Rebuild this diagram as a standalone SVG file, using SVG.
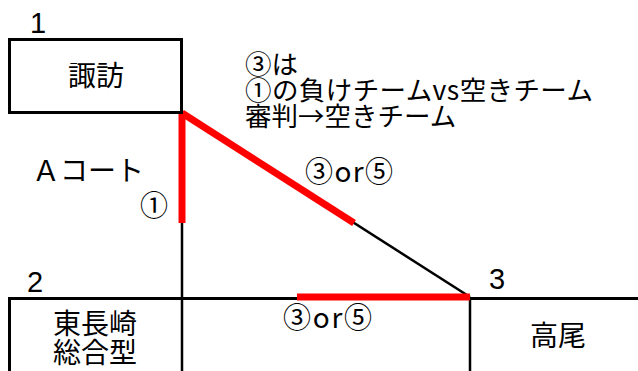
<svg xmlns="http://www.w3.org/2000/svg" width="638" height="371" viewBox="0 0 638 371">
<style>
text{font-family:"Noto Sans CJK JP","Noto Sans",sans-serif;fill:#000;}
.lbl{font-size:28px;}
.num{font-size:29px;font-family:"Liberation Sans","Noto Sans",sans-serif;}
.note{font-size:26.5px;}
.blk{stroke:#000;fill:none;}
.red{stroke:#ff0000;stroke-width:7;fill:none;}
</style>
<rect width="638" height="371" fill="#fff"/>
<g id="connectors">
<line class="blk" x1="182" y1="113" x2="182" y2="371" stroke-width="2.5"/>
<line class="blk" x1="470" y1="298" x2="470" y2="371" stroke-width="2.5"/>
<line class="blk" x1="182" y1="113" x2="470" y2="297" stroke-width="2.5"/>
<path class="blk" d="M9.5,371 V298.5 H638" stroke-width="3"/>
<line class="red" x1="182" y1="113" x2="182" y2="223"/>
<line class="red" x1="182" y1="113" x2="354" y2="223"/>
<line class="red" x1="297" y1="297" x2="470" y2="297"/>
</g>
<g id="node-suwa">
<rect x="9.5" y="39.5" width="172" height="73" fill="none" stroke="#000" stroke-width="3"/>
<text class="lbl" x="68" y="86">諏訪</text>
<text class="num" x="30" y="33">1</text>
</g>
<g id="node-higashinagasaki">
<text class="lbl"><tspan x="53" y="334">東長崎</tspan><tspan x="53" y="363">総合型</tspan></text>
<text class="num" x="27" y="292">2</text>
</g>
<g id="node-takao">
<text class="lbl" x="530" y="346">高尾</text>
<text class="num" x="489" y="289">3</text>
</g>
<g id="labels">
<text class="note"><tspan x="245" y="74">③は</tspan><tspan x="245" y="100" textLength="348">①の負けチームvs空きチーム</tspan><tspan x="245" y="126">審判→空きチーム</tspan></text>
<text class="lbl" x="32" y="181">Ａコート</text>
<text class="lbl" x="140" y="216">①</text>
<text class="lbl" x="305" y="182" textLength="88">③or⑤</text>
<text class="lbl" x="283" y="328" textLength="89">③or⑤</text>
</g>
</svg>
